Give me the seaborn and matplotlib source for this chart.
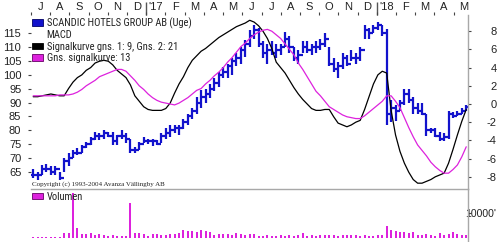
import numpy as np
import pandas as pd
import matplotlib
matplotlib.use("Agg")
import matplotlib.pyplot as plt
import seaborn as sns
from matplotlib.patches import Patch
from matplotlib import font_manager

# ---------------- data (weekly, from early July 2016 to May 2018) ----------------
month_labels = ["J", "A", "S", "O", "N", "D", "'17", "F", "M", "A", "M", "J",
                "J", "A", "S", "O", "N", "D", "'18", "F", "M", "A", "M"]
year_month_index = [6, 18]

price_low = [63, 62, 64, 65, 64, 64, 62, 65, 67, 70, 71, 72, 73.6, 74.7, 76.5, 76.5,
             77, 77.6, 74.7, 74.7, 77, 75.4, 71.8, 71.8, 73, 75.4, 75, 74.5, 74.7, 75.4,
             77, 77.6, 79, 78.5, 80.5, 82, 84, 86, 88, 90, 91.5, 94, 95.5, 98.8, 99, 100,
             103, 104, 106.4, 110, 113, 110, 106, 104, 107, 106, 107, 110, 108, 105, 104,
             108, 108, 107, 108, 109, 110, 103, 101, 99, 102, 103, 105, 104, 105, 113, 113,
             115, 116, 114, 82, 83, 83.5, 87, 89, 90, 86, 86, 85.5, 78, 79, 77.6, 76, 76,
             77, 84.4, 85, 86, 87]
price_high = [66, 65, 67.5, 68, 67, 67, 65, 70, 72, 73, 73.6, 74.7, 75.8, 77.6, 79.4, 79,
              80, 79.4, 79.4, 78.5, 80, 79, 77, 74, 75.8, 77.6, 77, 77, 76.5, 79, 81, 82,
              82, 82, 84, 86, 88, 92, 94.5, 95, 96.5, 99, 101, 102.8, 104, 106, 108, 110,
              112.5, 116, 118, 117, 112, 111, 112, 111, 111, 115.4, 114, 110, 109, 112, 112,
              111, 112, 113, 115, 110, 106, 104.6, 108, 107, 109, 108, 110, 118, 117, 118,
              119, 118, 116.5, 91, 89, 91, 95, 95, 92, 90, 90, 86, 81, 81, 79.4, 79, 87,
              86.6, 87, 88, 89]
price_close = [64, 64, 66, 66, 65, 66, 63, 69, 70, 72, 72, 74, 75, 77, 78, 78, 79, 78, 76,
               78, 78, 77, 73, 73, 75, 76, 76, 76, 75, 78, 79, 80, 81, 81, 83, 85, 87, 90,
               92, 93, 95, 97, 100, 101, 103, 105, 106, 109, 111, 114, 116, 111, 108, 109,
               108, 109, 110, 113, 110, 106, 107, 110, 109, 110, 110, 111, 113, 104, 102,
               103, 106, 104, 106, 106, 109, 116, 115, 117, 118, 115, 86, 88, 87, 90, 93,
               91, 88, 87, 86, 80, 80, 78, 77, 77.5, 86, 85, 86, 87, 88.5]

macd = [0.8, 0.8, 0.9, 1.0, 1.1, 1.0, 0.9, 0.9, 1.7, 2.4, 2.9, 3.2, 3.7, 4.0, 4.5, 4.7,
        4.8, 4.7, 4.3, 3.7, 3.3, 2.9, 2.1, 0.9, 0.3, -0.3, -0.6, -0.7, -0.7, -0.7, -0.5,
        0.1, 1.2, 2.2, 3.0, 4.0, 4.8, 5.3, 5.8, 6.1, 6.5, 6.9, 7.3, 7.6, 7.9, 8.2, 8.5,
        8.7, 8.9, 9.2, 9.0, 8.6, 8.0, 7.2, 6.1, 4.6, 4.0, 3.4, 2.6, 1.8, 1.1, 0.5, 0.0,
        -0.5, -0.7, -0.7, -0.6, -0.6, -1.4, -2.1, -2.3, -2.5, -2.3, -2.0, -1.8, -0.6,
        0.8, 2.2, 3.2, 3.6, 3.4, -0.7, -3.4, -5.2, -6.5, -7.5, -8.3, -8.7, -8.7, -8.5,
        -8.3, -8.0, -7.8, -7.6, -6.5, -5.0, -3.4, -1.9, -0.6]
signal = [0.9, 0.9, 0.9, 0.9, 0.9, 0.9, 1.0, 1.0, 1.0, 1.1, 1.3, 1.6, 2.0, 2.3, 2.6, 3.0,
          3.2, 3.4, 3.6, 3.8, 3.8, 3.6, 3.1, 2.6, 2.0, 1.6, 1.1, 0.7, 0.4, 0.2, 0.1, 0.0,
          -0.1, 0.1, 0.4, 0.7, 1.1, 1.5, 1.7, 2.2, 2.6, 3.1, 3.5, 4.0, 4.6, 5.1, 5.7, 6.3,
          6.7, 7.2, 7.6, 7.9, 8.1, 8.2, 8.0, 7.6, 7.2, 6.6, 6.0, 5.4, 4.5, 3.8, 3.0, 2.2,
          1.4, 0.9, 0.3, -0.3, -0.6, -0.9, -1.2, -1.4, -1.5, -1.6, -1.6, -1.3, -0.9, -0.5,
          -0.1, 0.3, 0.9, 0.9, 0.3, -0.4, -1.5, -2.6, -3.6, -4.5, -5.1, -5.7, -6.4, -6.9,
          -7.3, -7.6, -7.6, -7.2, -6.7, -5.8, -4.7]
volume = [400, 400, 400, 400, 400, 400, 400, 2000, 2000, 18000, 4000, 1500, 1600, 2000,
          1200, 1500, 1200, 1000, 1200, 1000, 800, 800, 14000, 2000, 2000, 1800, 800, 1500,
          1500, 1400, 1300, 1500, 1600, 2000, 3200, 2800, 3000, 2400, 3200, 2800, 2400,
          1400, 1600, 1800, 1600, 1200, 2000, 1600, 1400, 1800, 1600, 1000, 1000, 1200,
          1000, 1000, 1200, 1000, 1400, 1000, 1400, 2200, 1000, 1400, 1000, 1400, 1200,
          1400, 1400, 1000, 1200, 1400, 1200, 1200, 1000, 1200, 1000, 1000, 1200, 1400,
          5000, 3200, 3000, 2400, 2600, 2200, 2600, 1400, 1400, 1800, 1200, 1000, 2000,
          1400, 1800, 2400, 1600, 1200, 1400]

price_ticks = [65, 70, 75, 80, 85, 90, 95, 100, 105, 110, 115]
macd_ticks = [-8, -6, -4, -2, 0, 2, 4, 6, 8]
volume_ticks = [10000]
volume_tick_labels = ["10000'"]

legend_labels = ["SCANDIC HOTELS GROUP AB (Uge)", "MACD",
                 "Signalkurve gns. 1: 9, Gns. 2: 21", "Gns. signalkurve: 13"]
volume_label = "Volumen"
copyright_text = "Copyright (c) 1993-2004 Avanza Vällingby AB"

# ---------------- styling ----------------
sns.set_theme(style="white")
plt.rcParams["font.family"] = ["Liberation Sans", "DejaVu Sans"]
plt.rcParams["font.size"] = 8

# look for a condensed sans face (the legend text of the original is narrow)
cond_file = None
for f in font_manager.fontManager.ttflist:
    nm = f.name.lower()
    fn = f.fname.lower()
    is_cond = ("narrow" in nm or "condensed" in nm or "narrow" in fn or "condensed" in fn
               or str(f.stretch) in ("condensed", "semi-condensed"))
    if is_cond and f.style == "normal" and f.weight in (400, "normal", "regular") \
            and ("liberation" in nm or "dejavu" in nm or "roboto" in nm or "noto" in nm):
        cond_file = f.fname
        if "liberation" in nm:
            break
if cond_file is not None:
    LEG_PROP = font_manager.FontProperties(fname=cond_file, size=7.6)
else:
    LEG_PROP = font_manager.FontProperties(family=["Liberation Sans", "DejaVu Sans"], size=7.5)

BLUE = "#1212cc"
MAGENTA = "#dd22dd"
GREY = "#a8a8a8"
TXT = "#222222"

n = len(price_close)
weeks = np.arange(n) + 0.5
wpm = 52.18 / 12
df = pd.DataFrame({"week": weeks, "macd": macd, "signal": signal, "volume": volume})

fig = plt.figure(figsize=(5.0, 2.42), dpi=100)
W, H = 500.0, 242.0
x0, x1 = 31.0, 468.0
ax = fig.add_axes([x0 / W, 1 - 189 / H, (x1 - x0) / W, (189 - 15) / H])
axv = fig.add_axes([x0 / W, 0.0, (x1 - x0) / W, (242 - 189) / H])
ax2 = ax.twinx()

xlim = (0, 98.9)

# ---------------- price bars (left axis) ----------------
opens = [price_close[0]] + price_close[:-1]
ax.vlines(weeks, price_low, price_high, color=BLUE, lw=1.6, zorder=3)
ax.hlines(opens, weeks - 0.5, weeks, color=BLUE, lw=1.6, zorder=3)
ax.hlines(price_close, weeks, weeks + 0.5, color=BLUE, lw=1.6, zorder=3)
ax.set_xlim(*xlim)
ax.set_ylim(58.9, 121.5)
ax.set_yticks(price_ticks)
ax.set_yticklabels([str(v) for v in price_ticks])
ax.tick_params(axis="y", which="major", left=True, right=False, length=2.5, width=0.8,
               color="#444444", pad=4.5, labelsize=8, labelcolor=TXT, direction="out")

# top month axis
month_starts = np.arange(len(month_labels)) * wpm
month_mids = month_starts + wpm / 2
ax.xaxis.tick_top()
ax.set_xticks(month_mids)
ax.set_xticklabels(month_labels)
ax.set_xticks(month_starts, minor=True)
ax.tick_params(axis="x", which="major", length=0, pad=2.2, labelsize=8, labelcolor=TXT,
               top=True, bottom=False)
ax.tick_params(axis="x", which="minor", length=2.2, width=0.8, color="#444444",
               top=True, bottom=False, direction="out")
sec = ax.secondary_xaxis("top")
sec.set_xticks(month_starts[year_month_index])
sec.set_xticklabels(["" for _ in year_month_index])
sec.tick_params(axis="x", length=9.5, width=1.0, color="#555555", direction="out")
sec.spines["top"].set_visible(False)

for s in ["top", "left", "right", "bottom"]:
    ax.spines[s].set_visible(False)
ax.grid(False)

# ---------------- MACD lines (right axis) ----------------
sns.lineplot(data=df, x="week", y="macd", ax=ax2, color="black", lw=0.9, zorder=4)
sns.lineplot(data=df, x="week", y="signal", ax=ax2, color=MAGENTA, lw=0.9, zorder=4)
ax2.set_xlim(*xlim)
ax2.set_ylim(-9.34, 9.78)
ax2.set_yticks(macd_ticks)
ax2.set_yticklabels([str(v) for v in macd_ticks])
ax2.set_xlabel("")
ax2.set_ylabel("")
ax2.tick_params(axis="y", right=True, left=False, length=2.5, width=0.8, color="#444444",
                pad=18, labelsize=8, labelcolor=TXT, direction="out")
for lab in ax2.get_yticklabels():
    lab.set_horizontalalignment("right")
for s in ["top", "left", "bottom"]:
    ax2.spines[s].set_visible(False)
ax2.spines["right"].set_color(GREY)
ax2.spines["right"].set_linewidth(1.0)
ax2.grid(False)

handles = [
    Patch(facecolor=BLUE, edgecolor="#000066", lw=0.6),
    Patch(facecolor="none", edgecolor="none"),
    Patch(facecolor="black", edgecolor="black", lw=0.6),
    Patch(facecolor=MAGENTA, edgecolor="#660066", lw=0.6),
]
leg = ax2.legend(handles, legend_labels, loc="upper left", bbox_to_anchor=(0.002, 0.985),
                 frameon=False, prop=LEG_PROP,
                 handlelength=1.1, handleheight=0.6, handletextpad=0.3,
                 labelspacing=0.12, borderpad=0.0, borderaxespad=0.0)
for t in leg.get_texts():
    t.set_color(TXT)

ax2.text(0.002, 0.012, copyright_text, transform=ax2.transAxes, fontsize=5.0,
         family=["Liberation Serif", "DejaVu Serif"], color="#222222", ha="left",
         va="bottom", zorder=5)

# ---------------- volume panel ----------------
sns.barplot(data=df, x="week", y="volume", ax=axv, native_scale=True, color=MAGENTA,
            width=0.45, errorbar=None, saturation=1, edgecolor="none")
axv.set_xlim(*xlim)
axv.set_ylim(-1600, 19600)
axv.set_xlabel("")
axv.set_ylabel("")
axv.set_xticks([])
axv.yaxis.tick_right()
axv.set_yticks(volume_ticks)
axv.set_yticklabels(volume_tick_labels)
axv.tick_params(axis="y", right=True, left=False, length=2.0, width=0.8, color="#444444",
                pad=18.5, labelsize=7.5, labelcolor=TXT, direction="out")
for lab in axv.get_yticklabels():
    lab.set_horizontalalignment("right")
for s in ["left", "bottom"]:
    axv.spines[s].set_visible(False)
axv.spines["top"].set_color(GREY)
axv.spines["right"].set_color(GREY)
axv.spines["top"].set_linewidth(1.0)
axv.spines["right"].set_linewidth(1.0)
axv.grid(False)
vleg = axv.legend([Patch(facecolor=MAGENTA, edgecolor="#660066", lw=0.6)], [volume_label],
                  loc="upper left", bbox_to_anchor=(0.002, 0.95), frameon=False,
                  prop=LEG_PROP, handlelength=1.1, handleheight=0.6, handletextpad=0.3,
                  borderpad=0.0, borderaxespad=0.0)
for t in vleg.get_texts():
    t.set_color(TXT)

fig.savefig("out.png", dpi=100)
